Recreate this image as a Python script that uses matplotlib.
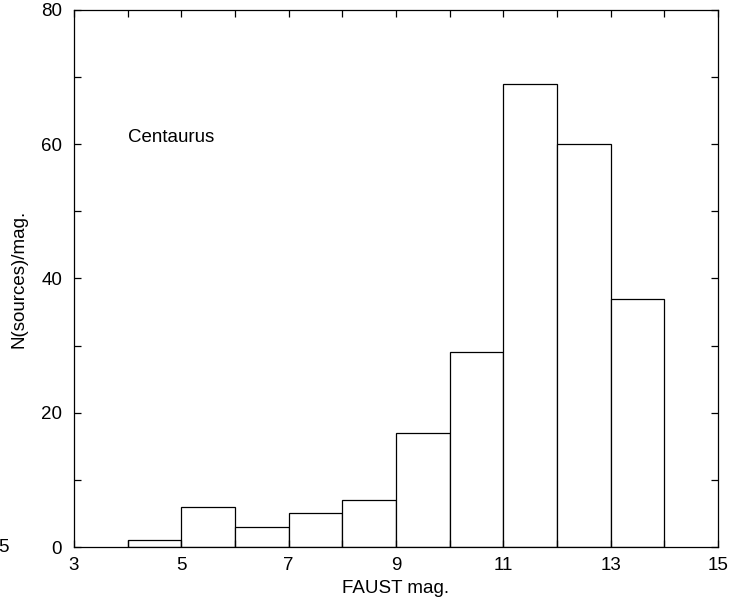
import numpy as np
import matplotlib
matplotlib.use('Agg')
import matplotlib.pyplot as plt
from matplotlib.ticker import MultipleLocator, FixedLocator

plt.rcParams['font.family'] = ['Liberation Sans', 'DejaVu Sans']

bin_left = [4, 5, 6, 7, 8, 9, 10, 11, 12, 13]
counts = [1, 6, 3, 5, 7, 17, 29, 69, 60, 37]
x_ticks = [3, 5, 7, 9, 11, 13, 15]

fig = plt.figure(figsize=(7.54, 6.08), dpi=100)
ax = fig.add_axes([0.0981, 0.1003, 0.8541, 0.8833])

ax.bar(bin_left, counts, width=1, align='edge', facecolor='white',
       edgecolor='black', linewidth=0.9)

ax.set_xlim(3, 15)
ax.set_ylim(0, 80)
ax.xaxis.set_major_locator(FixedLocator(x_ticks))
ax.xaxis.set_minor_locator(MultipleLocator(1))
ax.yaxis.set_major_locator(MultipleLocator(20))
ax.yaxis.set_minor_locator(MultipleLocator(10))
ax.tick_params(which='both', direction='in', top=True, right=True,
               length=5, width=0.9, labelsize=13.5)
ax.tick_params(axis='x', pad=7.5)
ax.tick_params(axis='y', pad=8.6)
for s in ax.spines.values():
    s.set_linewidth(0.9)

ax.set_xlabel('FAUST mag.', fontsize=13.5, labelpad=4)
ax.set_ylabel('N(sources)/mag.', fontsize=13.5, labelpad=10)
ax.text(4.0, 61, 'Centaurus', fontsize=13.5, ha='left', va='center')

# clipped leftover label at the left edge
fig.text(-0.002, 61 / 608, '5', fontsize=13.5, ha='left', va='center')

fig.savefig('out.png', dpi=100)
